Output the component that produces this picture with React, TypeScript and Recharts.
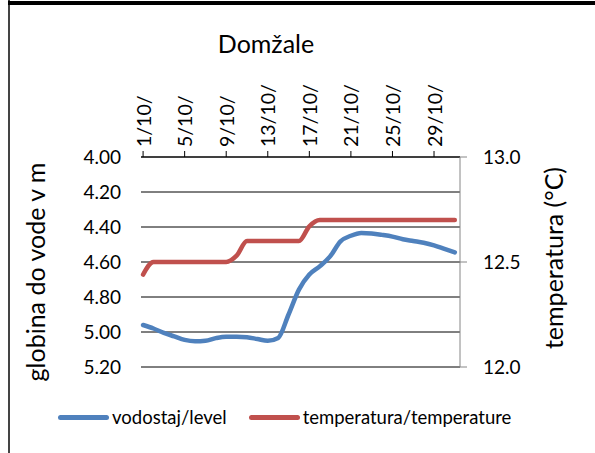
import { CartesianGrid, Line, LineChart, XAxis, YAxis } from "recharts";

const days = [1, 2, 3, 4, 5, 6, 7, 8, 9, 10, 11, 12, 13, 14, 15, 16, 17, 18, 19, 20, 21, 22, 23, 24, 25, 26, 27, 28, 29, 30, 31];
const level = [4.96, 4.98, 5.005, 5.025, 5.045, 5.053, 5.05, 5.035, 5.027, 5.027, 5.03, 5.04, 5.05, 5.034, 4.9, 4.758, 4.672, 4.625, 4.568, 4.482, 4.45, 4.434, 4.437, 4.445, 4.455, 4.47, 4.48, 4.49, 4.505, 4.525, 4.545];
const temperature = [12.44, 12.5, 12.5, 12.5, 12.5, 12.5, 12.5, 12.5, 12.5, 12.53, 12.6, 12.6, 12.6, 12.6, 12.6, 12.6, 12.67, 12.7, 12.7, 12.7, 12.7, 12.7, 12.7, 12.7, 12.7, 12.7, 12.7, 12.7, 12.7, 12.7, 12.7];
const dayTicks = [1, 5, 9, 13, 17, 21, 25, 29];
const levelTicks = [4.0, 4.2, 4.4, 4.6, 4.8, 5.0, 5.2];
const tempTicks = [12.0, 12.5, 13.0];

const data = days.map((d, i) => ({ day: d, level: level[i], temperature: temperature[i] }));

const FONT = "Lato, 'Noto Sans', sans-serif";
const BLUE = "#4F81BD";
const RED = "#C0504D";

const DayTick = (props: any) => {
  const { x, y, payload } = props;
  return (
    <text
      x={x}
      y={y}
      transform={`rotate(-90 ${x} ${y})`}
      textAnchor="start"
      dominantBaseline="central"
      fontSize={19.5}
      fontFamily={FONT}
      fill="#000"
    >
      {`${payload.value}/10/`}
    </text>
  );
};

export default function App() {
  return (
    <div style={{ position: "absolute", left: 0, top: 0, width: 595, height: 453, background: "#fff", fontFamily: FONT }}>
      {/* frame */}
      <div style={{ position: "absolute", left: 8, top: 0, width: 2, height: 453, background: "#444" }} />
      <div style={{ position: "absolute", left: 8, top: 1, width: 587, height: 4, background: "#000" }} />

      <div style={{ position: "absolute", left: 166, top: 26, width: 200, textAlign: "center", fontSize: 25, lineHeight: "34px" }}>
        Domžale
      </div>

      <LineChart width={595} height={453} data={data} margin={{ top: 97, right: 75, bottom: 86, left: 81 }}>
        <CartesianGrid yAxisId="left" vertical={false} stroke="#000" strokeWidth={1} />
        <XAxis
          dataKey="day"
          type="number"
          orientation="top"
          domain={[0.8, 31.5]}
          ticks={dayTicks}
          height={60}
          tickSize={6}
          tickMargin={4}
          tick={<DayTick />}
          axisLine={{ stroke: "#000" }}
          tickLine={{ stroke: "#000" }}
        />
        <YAxis
          yAxisId="left"
          reversed
          domain={[4, 5.2]}
          ticks={levelTicks}
          tickFormatter={(v: number) => v.toFixed(2)}
          width={60}
          axisLine={false}
          tickLine={false}
          tickSize={6}
          tickMargin={14}
          tick={{ fontSize: 19, fontFamily: FONT, fill: "#000" }}
        />
        <YAxis
          yAxisId="right"
          orientation="right"
          domain={[12, 13]}
          ticks={tempTicks}
          tickFormatter={(v: number) => v.toFixed(1)}
          width={60}
          axisLine={{ stroke: "#868686" }}
          tickLine={{ stroke: "#868686" }}
          tickSize={7}
          tickMargin={16}
          tick={{ fontSize: 19, fontFamily: FONT, fill: "#000" }}
        />
        <Line yAxisId="left" dataKey="level" type="monotone" stroke={BLUE} strokeWidth={4.5} dot={false} strokeLinecap="round" isAnimationActive={false} />
        <Line yAxisId="right" dataKey="temperature" type="monotone" stroke={RED} strokeWidth={4.5} dot={false} strokeLinecap="round" isAnimationActive={false} />
      </LineChart>

      {/* axis titles */}
      <div style={{ position: "absolute", left: 35, top: 272, transform: "translate(-50%, -50%) rotate(-90deg)", whiteSpace: "nowrap", fontSize: 25 }}>
        globina do vode v m
      </div>
      <div style={{ position: "absolute", left: 553, top: 258, transform: "translate(-50%, -50%) rotate(-90deg)", whiteSpace: "nowrap", fontSize: 25 }}>
        temperatura (°C)
      </div>

      {/* legend */}
      <div style={{ position: "absolute", left: 58, top: 405, display: "flex", alignItems: "center", fontSize: 18.5, lineHeight: "24px" }}>
        <span style={{ display: "inline-block", width: 51, height: 5, borderRadius: 3, background: BLUE, marginRight: 3 }} />
        <span>vodostaj/level</span>
        <span style={{ display: "inline-block", width: 51, height: 5, borderRadius: 3, background: RED, marginLeft: 22, marginRight: 3 }} />
        <span>temperatura/temperature</span>
      </div>
    </div>
  );
}
